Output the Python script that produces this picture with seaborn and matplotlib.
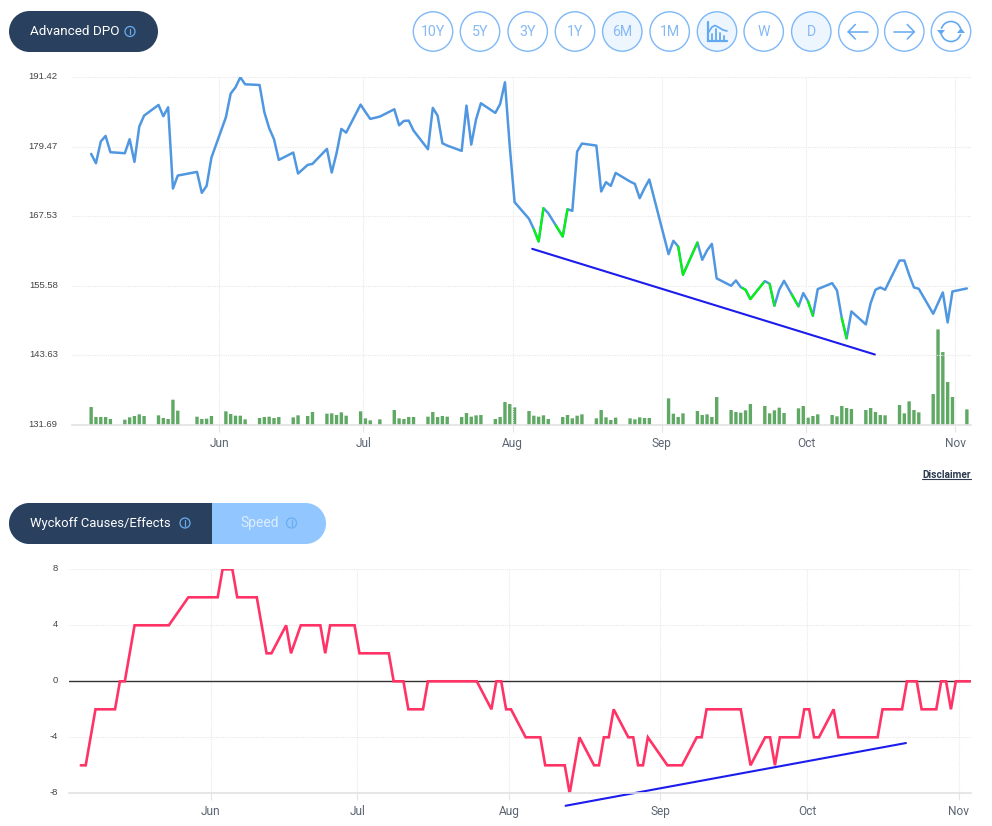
import numpy as np
import pandas as pd
import matplotlib
matplotlib.use('Agg')
import matplotlib.pyplot as plt
import matplotlib.dates as mdates
from matplotlib.patches import Arc, Circle, Polygon, Rectangle
from matplotlib.transforms import ScaledTranslation
import seaborn as sns

# Trading days (weekdays minus the days with no bar in the picture)
first_day = '2025-05-05 10:00'
last_day = '2025-11-03 10:00'
closed_days = ['2025-05-26', '2025-06-18', '2025-07-03', '2025-09-01']

price = [
    178.26, 176.66, 180.38, 181.35, 178.55,
    178.38, 180.78, 176.89, 182.95, 184.84,
    186.67, 184.73, 186.27, 172.31, 174.54,
    175.17, 171.57, 172.77, 177.63,
    184.55, 188.62, 189.70, 191.42, 190.22,
    190.10, 185.41, 182.67, 180.78, 177.23,
    178.49, 174.89, 176.37, 176.55,
    179.12, 175.06, 178.38, 182.55, 181.92,
    186.73, 185.47, 184.27, 184.67,
    185.93, 183.18, 183.93, 183.98, 182.27,
    179.06, 186.16, 184.84, 180.09, 179.69,
    178.78, 186.56, 179.86, 184.21, 186.96,
    185.30, 186.84, 190.56, 179.52, 169.97,
    167.11, 165.33, 163.22, 168.94, 168.08,
    164.07, 168.76, 168.48, 178.66, 180.04,
    179.69, 171.80, 173.40, 172.77, 175.00,
    173.51, 173.11, 170.65, 172.37, 173.86,
    161.04, 163.33, 162.36, 157.49,
    163.04, 160.07, 161.67, 162.81, 156.87,
    155.61, 156.52, 155.38, 154.92, 153.32,
    156.41, 155.95, 152.17, 154.92, 156.46,
    152.06, 154.35, 152.92, 150.46, 155.03,
    156.06, 154.81, 150.06, 146.57, 151.20,
    148.97, 152.63, 154.92, 155.32, 154.92,
    159.95, 159.95, 157.49, 155.32, 155.09,
    150.80, 152.63, 154.46, 149.31, 154.63,
    155.15,
]

volume = [
    54, 24, 24, 24, 18,
    16, 23, 27, 32, 27,
    29, 21, 18, 76, 43,
    25, 18, 19, 27,
    41, 33, 28, 28, 17,
    21, 24, 25, 21, 24,
    23, 29, 27, 39,
    34, 35, 30, 38, 28,
    41, 20, 14, 17,
    45, 20, 18, 24, 24,
    25, 39, 24, 27, 25,
    24, 36, 25, 29, 30,
    18, 24, 69, 63, 53,
    42, 28, 25, 29, 18,
    24, 30, 20, 28, 32,
    20, 45, 23, 15, 22,
    20, 17, 23, 21, 21,
    80, 34, 24, 35,
    42, 30, 32, 24, 84,
    45, 39, 37, 44, 63,
    57, 35, 44, 52, 36,
    50, 57, 22, 27, 32,
    30, 26, 57, 51, 48,
    45, 51, 39, 30, 29,
    60, 35, 71, 45, 38,
    93, 287, 219, 129, 84,
    47,
]

wyckoff = [
    -6, -6, -4, -2, -2,
    -2, 0, 0, 2, 4,
    4, 4, 4, 4, 4,
    6, 6, 6, 6,
    6, 8, 8, 8, 6,
    6, 6, 4, 2, 2,
    4, 2, 4, 4,
    4, 2, 4, 4, 4,
    4, 2, 2, 2,
    2, 0, 0, 0, -2,
    -2, 0, 0, 0, 0,
    0, 0, 0, 0, 0,
    -2, 0, 0, -2, -2,
    -4, -4, -4, -4, -6,
    -6, -6, -8, -6, -4,
    -6, -6, -4, -4, -2,
    -4, -4, -6, -6, -4,
    -6, -6, -6, -6,
    -4, -4, -2, -2, -2,
    -2, -2, -2, -4, -6,
    -4, -4, -6, -4, -4,
    -4, -2, -2, -4, -4,
    -2, -4, -4, -4, -4,
    -4, -4, -4, -2, -2,
    -2, 0, 0, 0, -2,
    -2, 0, 0, -2, 0,
    0,
]

# stretches of the price line drawn in green
green_runs = [
    ('2025-08-05 10:00', '2025-08-07 10:00'),
    ('2025-08-10 00:00', '2025-08-12 10:00'),
    ('2025-09-04 10:00', '2025-09-08 10:00'),
    ('2025-09-17 18:00', '2025-09-22 06:00'),
    ('2025-09-23 10:00', '2025-09-24 10:00'),
    ('2025-09-28 00:00', '2025-09-29 10:00'),
    ('2025-10-01 10:00', '2025-10-02 10:00'),
    ('2025-10-08 10:00', '2025-10-09 10:00'),
]

price_trend_x = ['2025-08-05 02:00', '2025-10-15 07:00']
price_trend_y = [161.95, 143.80]
wyckoff_trend_x = ['2025-08-12 14:00', '2025-10-21 05:00']
wyckoff_trend_y = [-8.89, -4.41]

month_ticks = ['2025-06-01', '2025-07-01', '2025-08-01', '2025-09-01', '2025-10-01', '2025-11-01']
month_labels = ['Jun', 'Jul', 'Aug', 'Sep', 'Oct', 'Nov']
price_ticks = [131.69, 143.63, 155.58, 167.53, 179.47, 191.42]
wyckoff_ticks = [-8, -4, 0, 4, 8]
range_buttons = ['10Y', '5Y', '3Y', '1Y', '6M', '1M']

BLUE = '#5097e1'
GREEN = '#00f800'
TREND = '#1c1cec'
PINK = '#ff3366'
BAR = '#5fa964'
NAVY = '#29405f'
SKY = '#7db8f7'
ICON = '#63a9f2'
GRID = '#e9e9e9'
W, H = 992, 826

sns.set_theme(style='white')
plt.rcParams['font.family'] = ['Roboto', 'DejaVu Sans']

fig = plt.figure(figsize=(W / 100, H / 100), dpi=100)


def px_axes(left, top, right, bottom):
    return fig.add_axes([left / W, 1 - bottom / H, (right - left) / W, (bottom - top) / H])


def num(values):
    return mdates.date2num(pd.to_datetime(values))


def style_axes(ax, yticks, ylabels, pad, xlim):
    ax.set_ylim(yticks[0], yticks[-1])
    ax.set_xlim(num(xlim))
    ax.set_xticks(num(month_ticks), month_labels, fontsize=8.6, color='#5a6472')
    ax.set_yticks(yticks, ylabels, fontsize=6.8, color='#444444', family='Liberation Sans')
    ax.set_xlabel('')
    ax.set_ylabel('')
    ax.grid(True, color=GRID, ls=(0, (1, 1)), lw=0.8)
    ax.set_axisbelow(True)
    ax.tick_params(axis='x', length=5, width=0.8, color='#e4e4e4', pad=3.4, bottom=True)
    ax.tick_params(axis='y', length=0, pad=pad)
    for side in ['top', 'left', 'right']:
        ax.spines[side].set_visible(False)
    ax.spines['bottom'].set_color('#e2e2e2')
    ax.spines['bottom'].set_linewidth(1.2)
    lift = ScaledTranslation(0, 1.7 / 100, fig.dpi_scale_trans)
    for lab in ax.get_yticklabels():
        lab.set_transform(lab.get_transform() + lift)


days = pd.bdate_range(first_day, last_day, normalize=False)
days = days[~days.normalize().isin(pd.to_datetime(closed_days))]
x = mdates.date2num(days)

# Top chart
vol_ax = px_axes(72.3, 77.3, 970.7, 425)
sns.barplot(x=x, y=volume, native_scale=True, width=0.7, color=BAR, saturation=1, ax=vol_ax)
vol_ax.set_ylim(0, 1044)
vol_ax.axis('off')
# seaborn shrinks the bars on a date scale, bring them back to 0.7 day
for b in vol_ax.patches:
    b.set_x(b.get_x() + b.get_width() / 2 - 0.35)
    b.set_width(0.7)
    b.set_linewidth(0)
    b.set_snap(False)

ax = fig.add_axes(vol_ax.get_position())
ax.patch.set_alpha(0)
sns.lineplot(x=x, y=price, estimator=None, sort=False, color=BLUE, lw=1.8, ax=ax)
for start, end in green_runs:
    a, b = num(start), num(end)
    inside = (x > a) & (x < b)
    run_x = np.r_[a, x[inside], b]
    sns.lineplot(x=run_x, y=np.interp(run_x, x, price), estimator=None, sort=False,
                 color=GREEN, lw=1.5, ax=ax)
sns.lineplot(x=num(price_trend_x), y=price_trend_y, estimator=None, sort=False, color=TREND, lw=1.5, ax=ax)
style_axes(ax, price_ticks, [f'{v:.2f}' for v in price_ticks], 10.5,
           ['2025-05-01 12:00', '2025-11-04 05:00'])
vol_ax.set_xlim(ax.get_xlim())

# Bottom chart
ax2 = px_axes(69, 569.3, 970.7, 793.3)
ax2.axhline(0, color='#333333', lw=1.0, zorder=1.5)
sns.lineplot(x=x, y=wyckoff, estimator=None, sort=False, color=PINK, lw=1.9, ax=ax2,
             solid_joinstyle='miter')
line = sns.lineplot(x=num(wyckoff_trend_x), y=wyckoff_trend_y, estimator=None, sort=False,
                    color=TREND, lw=1.5, ax=ax2)
line.lines[-1].set_clip_on(False)
style_axes(ax2, wyckoff_ticks, [str(v) for v in wyckoff_ticks], 8.1,
           ['2025-05-03 00:00', '2025-11-03 11:00'])

# Page furniture in pixel coordinates
ui = fig.add_axes([0, 0, 1, 1], zorder=5)
ui.set_xlim(0, W)
ui.set_ylim(H, 0)
ui.axis('off')
ui.patch.set_alpha(0)


def pill(left, right, top, bottom, color):
    r = (bottom - top) / 2
    ui.add_patch(Circle((left + r, top + r), r, fc=color, ec='none'))
    ui.add_patch(Circle((right - r, top + r), r, fc=color, ec='none'))
    ui.add_patch(Rectangle((left + r, top), right - left - 2 * r, bottom - top, fc=color, ec='none'))


def info_icon(cx, cy, color):
    ui.add_patch(Circle((cx, cy), 5, fc='none', ec=color, lw=0.9))
    ui.plot([cx, cx], [cy - 0.6, cy + 2.6], color=color, lw=0.9)
    ui.plot([cx, cx], [cy - 2.7, cy - 1.8], color=color, lw=0.9)


pill(9, 158, 11, 52, NAVY)
ui.text(30, 31.5, 'Advanced DPO', color='white', fontsize=9.7, ha='left', va='center')
info_icon(130, 31.5, '#6aaef0')

pill(9, 326, 503, 544, '#92c6ff')
pill(9, 120, 503, 544, NAVY)
ui.add_patch(Rectangle((60, 503), 152, 41, fc=NAVY, ec='none'))
ui.text(30, 523.5, 'Wyckoff Causes/Effects', color='white', fontsize=9.4, ha='left', va='center')
info_icon(185, 523, '#6aaef0')
ui.text(240, 523.5, 'Speed', color='#dcedff', fontsize=10, ha='left', va='center')
info_icon(291.5, 523, '#6aaef0')

centers = [433, 480, 527.7, 575, 622.3, 669.7, 717, 763.7, 811.3, 858.3, 904.3, 951]
active = {4, 6, 8}
labels = range_buttons + ['', 'W', 'D', '', '', '']
for i, cx in enumerate(centers):
    ui.add_patch(Circle((cx, 31.5), 19.7, fc='#edf6ff' if i in active else 'white', ec=SKY, lw=1.0))
    ui.text(cx, 31.8, labels[i], color='#86b9f5', fontsize=10.2, ha='center', va='center')

# chart icon
ci = centers[6]
ui.plot([ci - 9.5, ci - 9.5, ci + 9.5], [21.5, 41, 41], color=ICON, lw=1.6, solid_joinstyle='miter')
for off, hgt in zip([-5, -1, 3, 7], [6, 11, 7, 4]):
    ui.plot([ci + off, ci + off], [40, 40 - hgt], color=ICON, lw=1.3)
ui.plot([ci - 9, ci - 5, ci - 2, ci + 2, ci + 6, ci + 10], [33, 27, 25.5, 27.5, 30, 31], color=ICON, lw=1.2)

# arrows
for cx, d in [(centers[9], -1), (centers[10], 1)]:
    ui.plot([cx - 10, cx + 10], [31.8, 31.8], color=ICON, lw=1.1)
    ui.plot([cx + d * 3, cx + d * 10, cx + d * 3], [24.5, 31.8, 39], color=ICON, lw=1.1)

# refresh
cx = centers[11]
ui.add_patch(Arc((cx, 31.5), 20, 20, theta1=195, theta2=345, color=ICON, lw=1.2))
ui.add_patch(Arc((cx, 31.5), 20, 20, theta1=15, theta2=165, color=ICON, lw=1.2))
ui.add_patch(Polygon([(cx - 14, 30), (cx - 6, 30), (cx - 10, 35)], fc=ICON, ec='none'))
ui.add_patch(Polygon([(cx + 6, 33), (cx + 14, 33), (cx + 10, 28)], fc=ICON, ec='none'))

ui.text(970.7, 474.5, 'Disclaimer', color='#2b3a4f', fontsize=7.3, fontweight='bold', ha='right', va='center')
ui.plot([921.7, 970.7], [479, 479], color='#2b3a4f', lw=0.8)

fig.savefig('out.png', dpi=100)
